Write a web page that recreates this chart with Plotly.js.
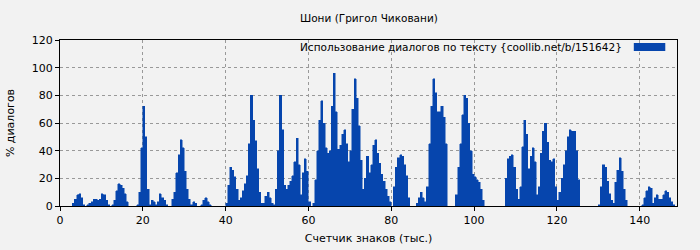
<!DOCTYPE html>
<html>
<head>
<meta charset="utf-8">
<script src="https://cdn.plot.ly/plotly-3.0.1.min.js"></script>
<style>
html,body{margin:0;padding:0;background:#f2f2f2;}
#chart{width:700px;height:250px;}
#chart .scatterlayer path{shape-rendering:crispEdges !important;}
</style>
</head>
<body>
<div id="chart"></div>
<script>
const chartTitle = "Шони (Григол Чиковани)";
const seriesName = "Использование диалогов по тексту {coollib.net/b/151642}";
const xTitle = "Счетчик знаков (тыс.)";
const yTitle = "% диалогов";

const charCount = [
  0,0.5,1,1.5,2,2.5,3,3.5,4,4.5,5,5.5,6,6.5,7,7.5,8,8.5,9,9.5,
  10,10.5,11,11.5,12,12.5,13,13.5,14,14.5,15,15.5,16,16.5,17,17.5,18,18.5,19,19.5,
  20,20.5,21,21.5,22,22.5,23,23.5,24,24.5,25,25.5,26,26.5,27,27.5,28,28.5,29,29.5,
  30,30.5,31,31.5,32,32.5,33,33.5,34,34.5,35,35.5,36,36.5,37,37.5,38,38.5,39,39.5,
  40,40.5,41,41.5,42,42.5,43,43.5,44,44.5,45,45.5,46,46.5,47,47.5,48,48.5,49,49.5,
  50,50.5,51,51.5,52,52.5,53,53.5,54,54.5,55,55.5,56,56.5,57,57.5,58,58.5,59,59.5,
  60,60.5,61,61.5,62,62.5,63,63.5,64,64.5,65,65.5,66,66.5,67,67.5,68,68.5,69,69.5,
  70,70.5,71,71.5,72,72.5,73,73.5,74,74.5,75,75.5,76,76.5,77,77.5,78,78.5,79,79.5,
  80,80.5,81,81.5,82,82.5,83,83.5,84,84.5,85,85.5,86,86.5,87,87.5,88,88.5,89,89.5,
  90,90.5,91,91.5,92,92.5,93,93.5,94,94.5,95,95.5,96,96.5,97,97.5,98,98.5,99,99.5,
  100,100.5,101,101.5,102,102.5,103,103.5,104,104.5,105,105.5,106,106.5,107,107.5,108,108.5,109,109.5,
  110,110.5,111,111.5,112,112.5,113,113.5,114,114.5,115,115.5,116,116.5,117,117.5,118,118.5,119,119.5,
  120,120.5,121,121.5,122,122.5,123,123.5,124,124.5,125,125.5,126,126.5,127,127.5,128,128.5,129,129.5,
  130,130.5,131,131.5,132,132.5,133,133.5,134,134.5,135,135.5,136,136.5,137,137.5,138,138.5,139,139.5,
  140,140.5,141,141.5,142,142.5,143,143.5,144,144.5,145,145.5,146,146.5,147,147.5,148,148.5
];

const dialogPct = [
  0,0, 0,0, 0,0, 2,5, 8,9, 6,1, 0,1, 2,3, 5,5, 4,5,
  9,8, 4,1, 0,1, 4,11, 16,15, 13,9, 3,0, 0,0, 0,1, 10,42,
  72,50, 12,1, 4,3, 1,3, 9,6, 4,1, 0,0, 5,10, 24,37, 48,42,
  25,12, 5,1, 3,2, 0,0, 1,4, 6,3, 1,0, 0,0, 0,0, 0,0,
  2,15, 28,26, 21,12, 4,6, 11,16, 22,45, 80,62, 47,27, 10,2, 2,7,
  10,6, 2,1, 12,40, 80,55, 15,12, 15,18, 22,32, 49,30, 8,24, 34,25,
  3,0, 2,19, 40,62, 76,60, 42,38, 40,72, 96,68, 41,44, 52,55, 45,32,
  40,70, 92,78, 58,33, 12,20, 36,24, 30,44, 48,38, 31,23, 18,12, 7,3,
  0,14, 28,35, 37,36, 30,22, 6,0, 0,0, 2,6, 10,6, 3,14, 45,72,
  92,82, 68,68, 72,64, 45,0, 0,0, 0,8, 28,45, 66,80, 78,60, 40,23,
  21,19, 17,12, 4,0, 0,0, 0,0, 0,0, 0,0, 0,20, 34,36, 37,28,
  12,5, 14,43, 62,52, 27,36, 42,32, 8,14, 38,54, 60,46, 33,32, 34,14,
  4,10, 20,30, 40,50, 55,54, 54,40, 19,0, 0,0, 0,0, 0,0, 0,0,
  1,14, 30,28, 18,9, 4,2, 17,26, 35,25, 12,4, 0,0, 0,0, 0,0,
  0,1, 6,11, 14,13, 2,6, 8,5, 5,8, 11,10, 6,3, 1,0
];

const barColor = "rgb(6,69,173)";
const font = "DejaVu Sans, sans-serif";

const trace = {
  type: "scatter",
  mode: "lines",
  x: charCount,
  y: dialogPct,
  line: {shape: "hv", width: 0.5, color: barColor, simplify: false},
  fill: "tozeroy",
  fillcolor: barColor,
  name: seriesName,
  hoverinfo: "x+y"
};

const layout = {
  width: 700, height: 250,
  paper_bgcolor: "#f2f2f2",
  plot_bgcolor: "#f2f2f2",
  margin: {l: 60, r: 23, t: 40, b: 44},
  font: {family: font, size: 11, color: "#000"},
  showlegend: false,
  title: {text: chartTitle, x: 0.527, xanchor: "center", y: 0.925, yanchor: "middle", font: {family: font, size: 10.5}},
  xaxis: {
    range: [0, 149], tickvals: [0,20,40,60,80,100,120,140],
    showgrid: true, gridcolor: "#999", griddash: "dot", gridwidth: 1,
    showline: true, linecolor: "#000", linewidth: 1, mirror: true,
    ticks: "outside", ticklen: 4, tickcolor: "#000",
    zeroline: false,
    title: {text: xTitle, font: {family: font, size: 11}, standoff: 8},
    tickfont: {family: font, size: 11}
  },
  yaxis: {
    range: [0, 120], tickvals: [0,20,40,60,80,100,120],
    showgrid: true, gridcolor: "#999", griddash: "dot", gridwidth: 1,
    showline: true, linecolor: "#000", linewidth: 1, mirror: true,
    ticks: "outside", ticklen: 4, tickcolor: "#000",
    zeroline: false,
    title: {text: yTitle, font: {family: font, size: 11}, standoff: 14},
    tickfont: {family: font, size: 11}
  },
  annotations: [{
    xref: "paper", yref: "paper", x: 0.914, y: 0.958,
    xanchor: "right", yanchor: "middle", showarrow: false,
    text: seriesName, font: {family: font, size: 10.5, color: "#000"}
  }],
  shapes: [{
    type: "rect", xref: "paper", yref: "paper",
    x0: 0.930, x1: 0.981, y0: 0.934, y1: 0.982,
    fillcolor: barColor, line: {width: 0}
  }]
};

Plotly.newPlot("chart", [trace], layout, {displayModeBar: false, staticPlot: true});
</script>
</body>
</html>
